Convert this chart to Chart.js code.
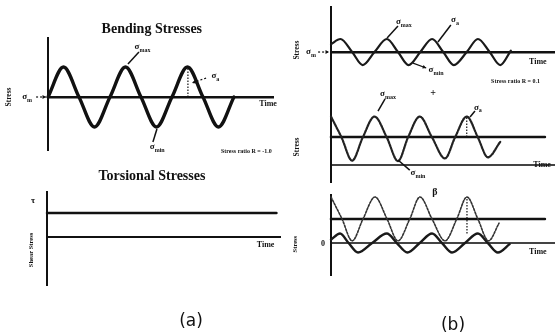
<!DOCTYPE html>
<html>
<head>
<meta charset="utf-8">
<script src="https://cdn.jsdelivr.net/npm/chart.js@4.4.1/dist/chart.umd.min.js"></script>
<style>
body { margin: 0; background: #fff; }
#wrap { position: relative; width: 555px; height: 335px; }
#wrap canvas { position: absolute; left: 0; top: 0; }
</style>
</head>
<body>
<div id="wrap">
  <canvas id="bend" width="555" height="335"></canvas>
  <canvas id="tors" width="555" height="335"></canvas>
  <canvas id="rev" width="555" height="335"></canvas>
  <canvas id="rep" width="555" height="335"></canvas>
  <canvas id="fluc" width="555" height="335"></canvas>
</div>
<script>
// (a) bending stresses, fully reversed
var bendT = [0, 1, 2, 3, 4, 5, 6, 7, 8, 9, 10, 11, 12]
var bendS = [0, 1, 0, -1, 0, 1, 0, -1, 0, 1, 0, -1, 0]

// (a) torsional stress, constant
var torsT = [0, 14.8]
var torsS = [1, 1]

// (b) top: reversed about the mean
var revT = [0, 0.8, 1.8, 2.7, 3.7, 4.75, 5.7, 6.6, 7.6, 8.6, 9.55, 10.45, 11.55, 12.5, 13.5, 14.4, 15.3]
var revS = [0.6, 1, 0, -1, 0, 1, 0, -1, 0, 1, 0, -1, 0, 1, 0, -1, 0.1]

// (b) middle: repeated stress, with its mean line
var repT = [0, 0.9, 1.8, 2.7, 3.7, 4.75, 5.7, 6.55, 7.55, 8.6, 9.7, 10.55, 11.55, 12.5, 13.35, 14.4]
var repS = [2.2, 1.25, 0.2, 1.25, 2.2, 1.25, 0.18, 1.25, 2.2, 1.25, 0.3, 1.25, 2.2, 1.25, 0.35, 1.05]
var repMeanT = [0, 18.2]
var repMeanS = [1.27, 1.27]

// (b) bottom: big fluctuating wave, its mean line, small wave about zero
var bigT = [0, 0.94, 1.8, 2.72, 3.74, 4.77, 5.7, 6.7, 7.57, 8.6, 9.7, 10.7, 11.57, 12.5, 13.4, 14.3]
var bigS = [2.09, 1.09, 0.1, 1.09, 2.09, 1.09, 0.1, 1.09, 2.09, 1.09, 0.1, 1.09, 2.09, 1.09, 0.1, 0.9]
var bigMeanT = [0, 18.2]
var bigMeanS = [1.09, 1.09]
var smallT = [0, 0.77, 1.5, 2.3, 3.5, 4.75, 5.6, 6.5, 7.55, 8.6, 9.45, 10.3, 11.4, 12.5, 13.35, 14.2, 15.2]
var smallS = [0.15, 0.43, 0, -0.43, 0, 0.43, 0, -0.43, 0, 0.43, 0, -0.43, 0, 0.43, 0, -0.43, -0.05]

var ink = '#111'
var serif = '"Liberation Serif", "DejaVu Serif", serif'

function pts(xs, ys) {
    return xs.map(function (v, i) { return {x: v, y: ys[i]} })
}

function line(xs, ys, w, dash, color) {
    return {
        data: pts(xs, ys),
        borderColor: color || ink,
        borderWidth: w,
        borderDash: dash || [],
        borderCapStyle: 'round',
        pointRadius: 0,
        cubicInterpolationMode: 'monotone',
        fill: false,
        clip: false
    }
}

function axes(xr, yr, xw, xdash, xcolor) {
    return {
        x: {
            type: 'linear', min: xr[0], max: xr[1], position: {y: 0},
            grid: {display: false}, ticks: {display: false},
            border: {display: true, color: xcolor || ink, width: xw, dash: xdash || []},
            afterFit: function (s) { s.height = 0 }
        },
        y: {
            type: 'linear', min: yr[0], max: yr[1], position: 'left',
            grid: {display: false}, ticks: {display: false},
            border: {display: true, color: ink, width: 2},
            afterFit: function (s) { s.width = 0 }
        }
    }
}

// text and leader lines placed in data units
function notes(items, lines) {
    return {
        id: 'notes',
        afterDraw: function (chart) {
            var ctx = chart.ctx, sx = chart.scales.x, sy = chart.scales.y
            ctx.save()
            ctx.fillStyle = ink
            ctx.strokeStyle = ink
            lines.forEach(function (l) {
                var x1 = sx.getPixelForValue(l.from[0]), y1 = sy.getPixelForValue(l.from[1])
                var x2 = sx.getPixelForValue(l.to[0]), y2 = sy.getPixelForValue(l.to[1])
                ctx.beginPath()
                ctx.setLineDash(l.dash || [])
                ctx.lineWidth = l.width || 1
                ctx.moveTo(x1, y1)
                ctx.lineTo(x2, y2)
                ctx.stroke()
                if (l.arrow) {
                    var a = Math.atan2(y2 - y1, x2 - x1)
                    ctx.setLineDash([])
                    ctx.beginPath()
                    ctx.moveTo(x2, y2)
                    ctx.lineTo(x2 - 4 * Math.cos(a - 0.5), y2 - 4 * Math.sin(a - 0.5))
                    ctx.lineTo(x2 - 4 * Math.cos(a + 0.5), y2 - 4 * Math.sin(a + 0.5))
                    ctx.closePath()
                    ctx.fill()
                }
            })
            items.forEach(function (n) {
                var px = sx.getPixelForValue(n.x), py = sy.getPixelForValue(n.y)
                var fam = n.family || serif
                var weight = n.bold === false ? '' : 'bold '
                ctx.save()
                ctx.translate(px, py)
                if (n.rot) ctx.rotate(n.rot)
                ctx.textBaseline = 'middle'
                ctx.font = weight + n.size + 'px ' + fam
                var w1 = ctx.measureText(n.text).width
                var subSize = Math.round(n.size * 0.7)
                var w2 = 0
                if (n.sub) {
                    ctx.font = weight + subSize + 'px ' + fam
                    w2 = ctx.measureText(n.sub).width
                }
                var left = -(w1 + w2) / 2
                ctx.textAlign = 'left'
                ctx.font = weight + n.size + 'px ' + fam
                ctx.fillText(n.text, left, 0)
                if (n.sub) {
                    ctx.font = weight + subSize + 'px ' + fam
                    ctx.fillText(n.sub, left + w1, n.size * 0.35)
                }
                ctx.restore()
            })
            ctx.restore()
        }
    }
}

function makeChart(id, pad, scales, datasets, plugin) {
    return new Chart(document.getElementById(id), {
        type: 'line',
        data: {datasets: datasets},
        options: {
            responsive: false,
            animation: false,
            events: [],
            layout: {padding: pad},
            plugins: {legend: {display: false}, tooltip: {enabled: false}},
            scales: scales
        },
        plugins: [plugin]
    })
}

// (a) Bending Stresses
makeChart('bend', {left: 48, top: 38, right: 282, bottom: 185},
    axes([0, 14.52], [-1.767, 1.967], 2.5),
    [line(bendT, bendS, 3.4)],
    notes([
        {x: 6.7, y: 2.27, text: 'Bending Stresses', size: 14},
        {x: -2.52, y: 0, text: 'Stress', size: 7.5, rot: -Math.PI / 2},
        {x: -1.35, y: 0, text: 'σ', sub: 'm', size: 9},
        {x: 6.1, y: 1.67, text: 'σ', sub: 'max', size: 9},
        {x: 7.05, y: -1.67, text: 'σ', sub: 'min', size: 9},
        {x: 10.8, y: 0.7, text: 'σ', sub: 'a', size: 9},
        {x: 14.2, y: -0.23, text: 'Time', size: 8},
        {x: 12.8, y: -1.83, text: 'Stress ratio R = -1.0', size: 6}
    ], [
        {from: [-0.77, 0], to: [-0.13, 0], dash: [2, 2], width: 1.2, arrow: true},
        {from: [5.16, 1.1], to: [5.87, 1.5], width: 1.5},
        {from: [7.03, -1.07], to: [6.77, -1.5], width: 1.5},
        {from: [9.03, 0], to: [9.03, 1], dash: [1.5, 1.5], width: 1.2},
        {from: [10.2, 0.63], to: [9.3, 0.47], dash: [2, 2], width: 1.2, arrow: true}
    ]))

// (a) Torsional Stresses
makeChart('tors', {left: 47, top: 192, right: 275, bottom: 50},
    axes([0, 15.03], [-2, 1.875], 2, [3, 1]),
    [line(torsT, torsS, 2.5)],
    notes([
        {x: 6.77, y: 2.54, text: 'Torsional Stresses', size: 14},
        {x: -0.9, y: 1.5, text: 'τ', size: 9},
        {x: -1.03, y: -0.54, text: 'Shear Stress', size: 6.5, rot: -Math.PI / 2},
        {x: 14.1, y: -0.33, text: 'Time', size: 8},
        {x: 9.29, y: -3.54, text: '(a)', size: 17, bold: false, family: '"DejaVu Sans", sans-serif'}
    ], []))

// (b) top
makeChart('rev', {left: 331, top: 7, right: 0, bottom: 255},
    axes([0, 19.06], [-2.15, 3.46], 2.5),
    [line(revT, revS, 2.2, [], '#1a1a1a')],
    notes([
        {x: -2.89, y: 0.15, text: 'Stress', size: 7.5, rot: -Math.PI / 2},
        {x: -1.7, y: 0, text: 'σ', sub: 'm', size: 9},
        {x: 6.2, y: 2.3, text: 'σ', sub: 'max', size: 9},
        {x: 10.55, y: 2.46, text: 'σ', sub: 'a', size: 9},
        {x: 8.94, y: -1.38, text: 'σ', sub: 'min', size: 9},
        {x: 17.6, y: -0.77, text: 'Time', size: 8},
        {x: 15.7, y: -2.23, text: 'Stress ratio R = 0.1', size: 6}
    ], [
        {from: [-1.1, 0], to: [-0.17, 0], dash: [2, 2], width: 1.2, arrow: true},
        {from: [4.77, 1.08], to: [5.7, 2.0], width: 1.5},
        {from: [9.1, 0.77], to: [10.2, 2.08], width: 1.5},
        {from: [6.98, -0.85], to: [8.1, -1.23], width: 1.2, arrow: true}
    ]))

// (b) middle
makeChart('rep', {left: 331, top: 80, right: 0, bottom: 153},
    axes([0, 19.06], [-0.77, 3.86], 2, [3, 1], '#444'),
    [line(repT, repS, 2.2, [2, 1], '#222'), line(repMeanT, repMeanS, 2.6)],
    notes([
        {x: -2.89, y: 0.82, text: 'Stress', size: 7.5, rot: -Math.PI / 2},
        {x: 4.85, y: 3.23, text: 'σ', sub: 'max', size: 9},
        {x: 8.68, y: 3.27, text: '+', size: 10},
        {x: 12.5, y: 2.6, text: 'σ', sub: 'a', size: 9},
        {x: 7.4, y: -0.36, text: 'σ', sub: 'min', size: 9},
        {x: 17.96, y: 0, text: 'Time', size: 8},
        {x: 8.85, y: -1.23, text: 'β', size: 10}
    ], [
        {from: [4.0, 2.45], to: [4.6, 3.0], width: 1.5},
        {from: [11.83, 2.18], to: [12.25, 2.45], width: 1.5},
        {from: [11.55, 1.27], to: [11.55, 2.2], dash: [1.5, 1.5], width: 1.2},
        {from: [5.7, 0.23], to: [6.7, -0.23], width: 1.5}
    ]))

// (b) bottom
makeChart('fluc', {left: 331, top: 195, right: 0, bottom: 60},
    axes([0, 19.06], [-1.45, 2.18], 2, [3, 1], '#444'),
    [line(bigT, bigS, 1.6, [2, 1.5], '#333'), line(bigMeanT, bigMeanS, 2.6), line(smallT, smallS, 2.4, [], '#1a1a1a')],
    notes([
        {x: -3.06, y: -0.05, text: 'Stress', size: 6.5, rot: -Math.PI / 2},
        {x: -0.68, y: -0.05, text: '0', size: 8},
        {x: 17.6, y: -0.41, text: 'Time', size: 8},
        {x: 10.38, y: -3.73, text: '(b)', size: 17, bold: false, family: '"DejaVu Sans", sans-serif'}
    ], [
        {from: [11.57, 0.43], to: [11.57, 2.09], dash: [1.5, 1.5], width: 1.2}
    ]))
</script>
</body>
</html>
